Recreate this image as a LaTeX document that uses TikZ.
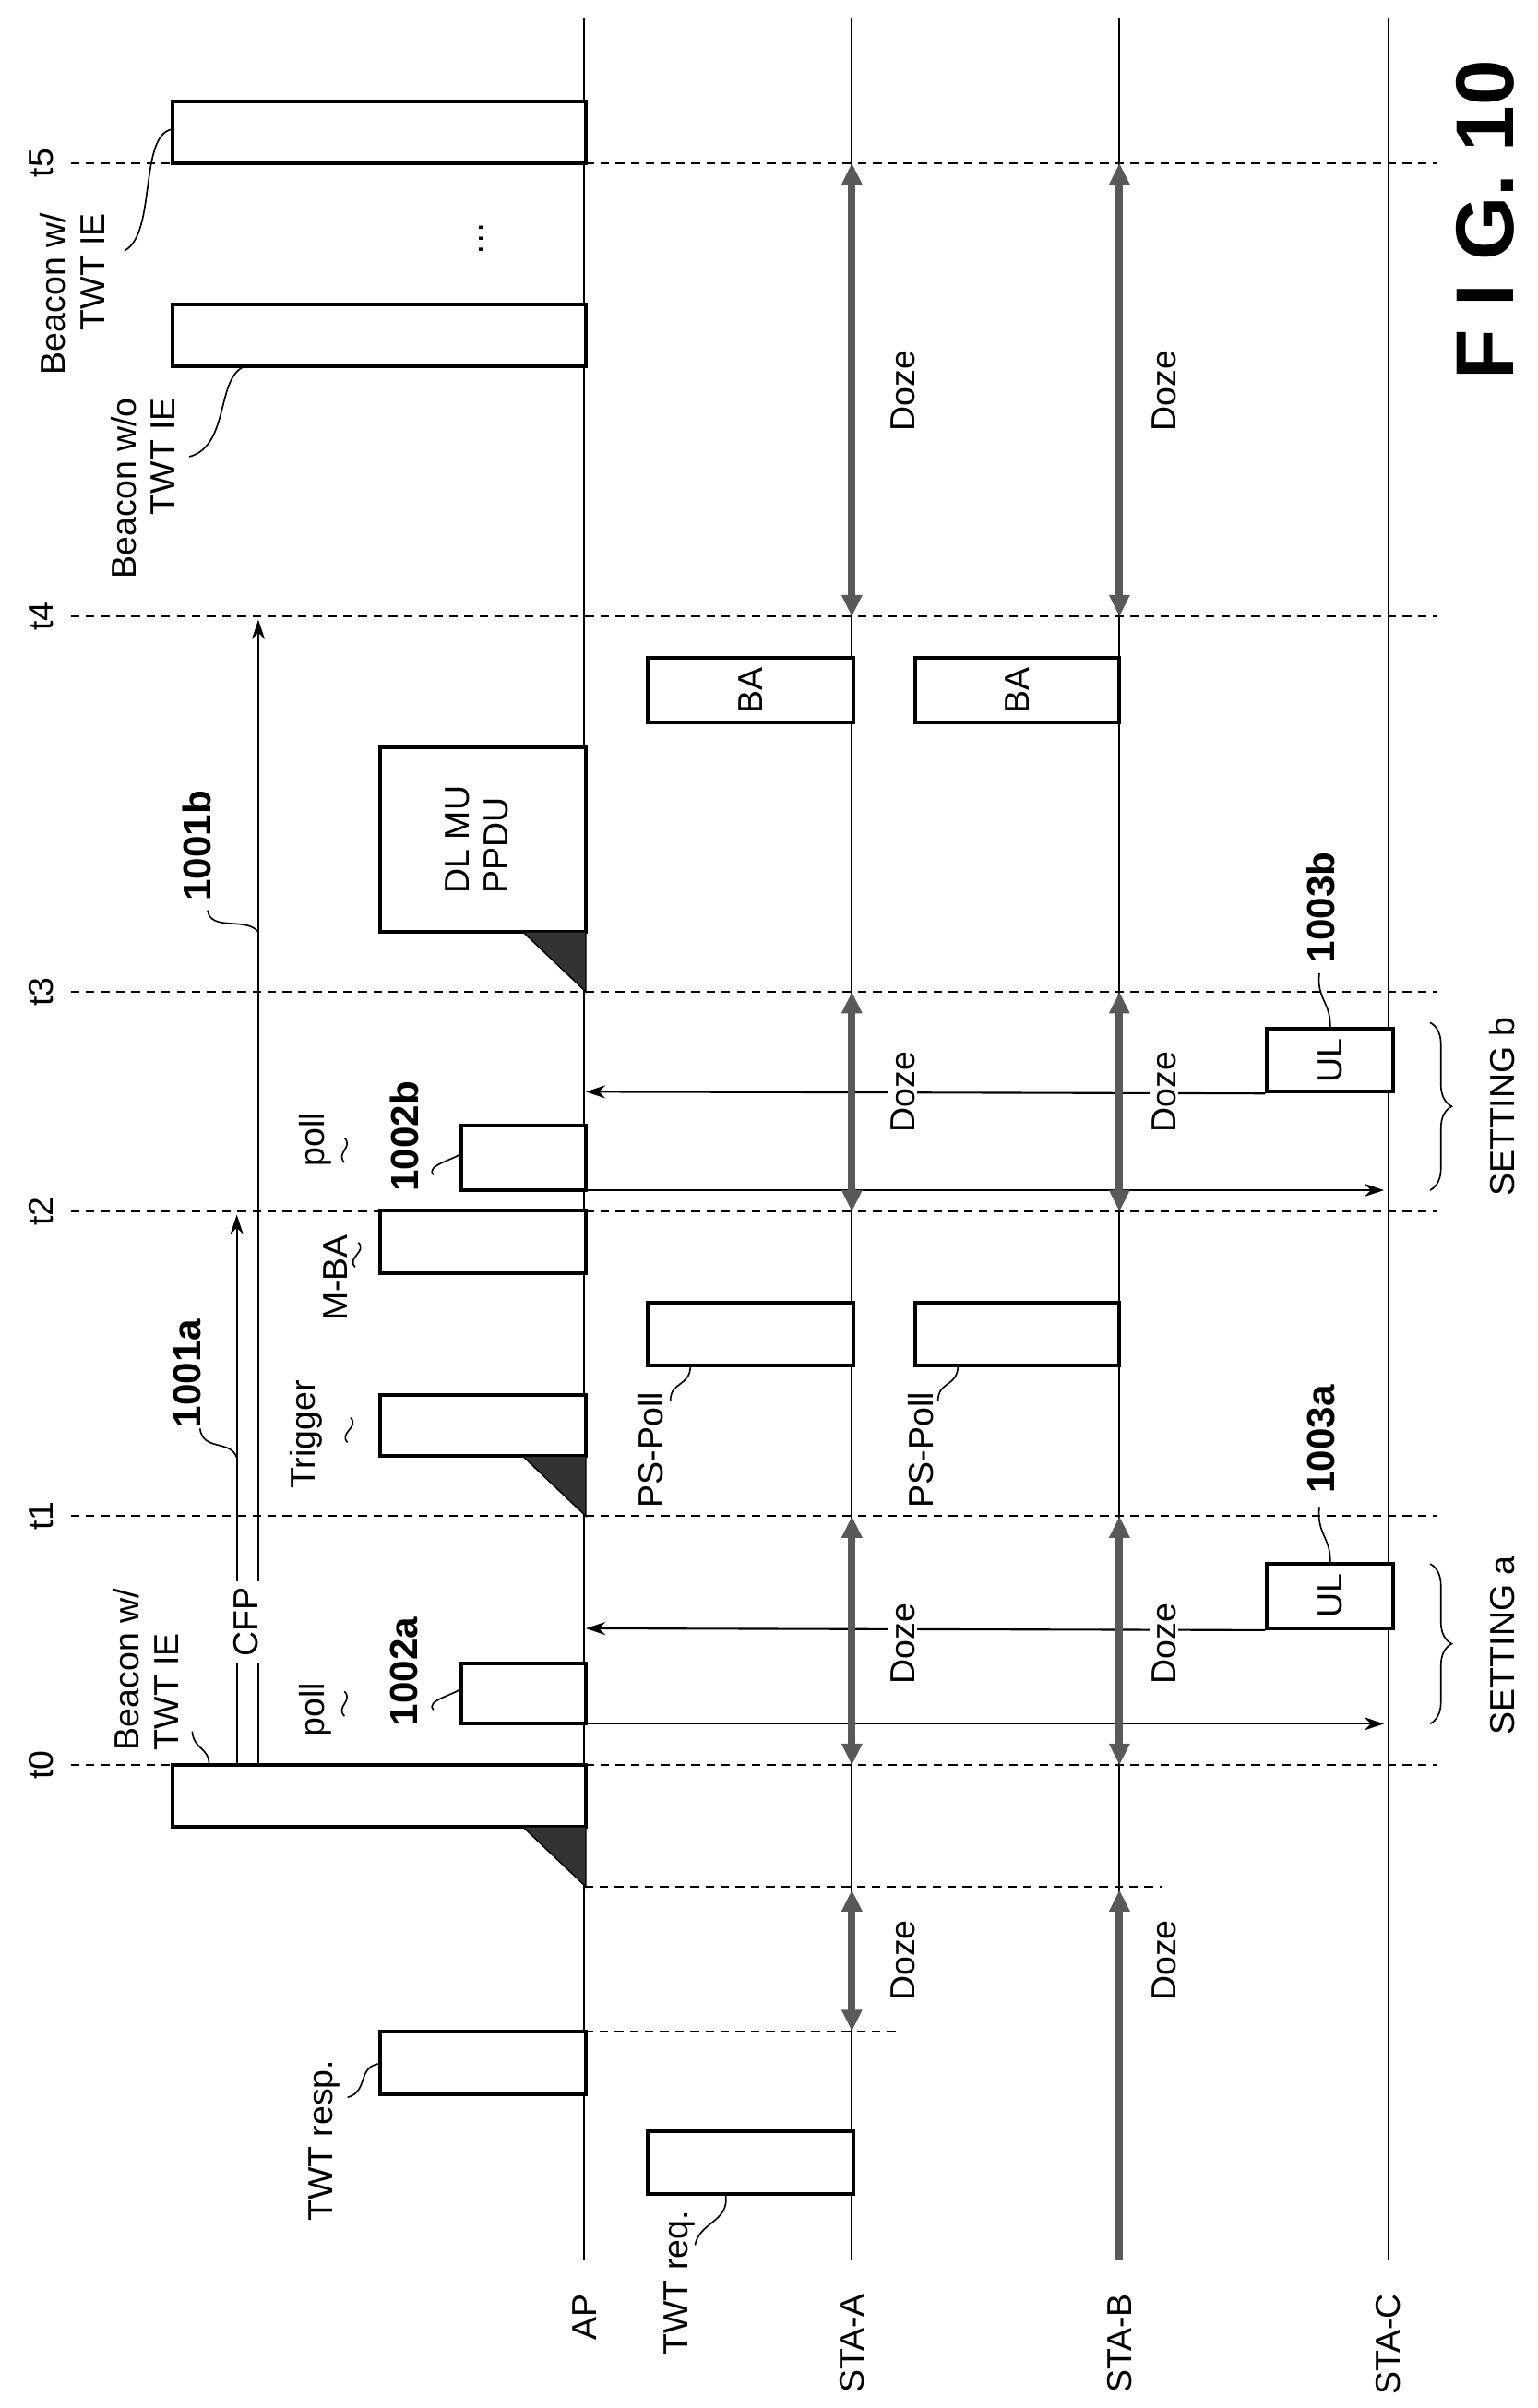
\documentclass[tikz,border=0pt]{standalone}
\usepackage{fontspec}
\setmainfont{Liberation Sans}
\usetikzlibrary{arrows.meta,fit,decorations.pathreplacing}

\begin{document}
\begin{tikzpicture}[x=0.025cm,y=-0.025cm,font=\fontsize{16}{18}\selectfont,
    lane/.style={line width=0.9pt},
    tline/.style={line width=0.9pt,dash pattern=on 4pt off 3pt},
    pkt/.style={draw,line width=1.6pt,fill=white,inner sep=0pt},
    wedge/.style={fill=black!80,draw=black,line width=0.6pt},
    doze/.style={line width=3.5pt,draw=black!65,{Triangle[length=10pt,width=9pt]}-{Triangle[length=10pt,width=9pt]}},
    msg/.style={line width=0.9pt,-{Stealth[length=9pt,width=6pt]}},
    lead/.style={line width=0.7pt},
    rot/.style={rotate=90,inner sep=1pt},
    num/.style={rot,font=\fontsize{18}{20}\selectfont\bfseries}]
  \useasboundingbox (0,0) rectangle (1000,1566);

  % lanes
  \foreach \n/\x in {ap/380,sta/554,stb/728,stc/903}{
    \coordinate (\n-top) at (\x,12);
    \coordinate (\n-bot) at (\x,1470);
  }
  \draw[lane] (ap-top) -- (ap-bot);
  \draw[lane] (sta-top) -- (sta-bot);
  \draw[lane] (stb-top) -- (stb-bot);
  \draw[lane] (stc-top) -- (stc-bot);
  \node[rot,anchor=east] (lap) at (380,1490) {AP};
  \node[rot,anchor=east] (lsta) at (554,1490) {STA-A};
  \node[rot,anchor=east] (lstb) at (728,1490) {STA-B};
  \node[rot,anchor=east] (lstc) at (903,1490) {STA-C};

  % time marks
  \foreach \t/\y in {0/1148,1/986,2/788,3/645,4/401,5/106}{
    \coordinate (t\t-l) at (46,\y);
    \coordinate (t\t-r) at (935,\y);
    \draw[tline] (t\t-l) -- (t\t-r);
    \node[rot] (lt\t) at (27,\y) {t\t};
  }
  \coordinate (d1-l) at (380,1227); \coordinate (d1-r) at (756,1227);
  \coordinate (d2-l) at (380,1321); \coordinate (d2-r) at (583,1321);
  \draw[tline] (d1-l) -- (d1-r);
  \draw[tline] (d2-l) -- (d2-r);

  % setup phase
  \node[pkt,fit={(421,1386) (555,1427)}] (twtreq) {};
  \node[rot,anchor=east] (ltwtreq) at (442,1436) {TWT req.};
  \draw[lead] (472,1428) .. controls (474,1445) and (455,1445) .. (452,1460);
  \node[pkt,fit={(247,1321) (381,1362)}] (twtresp) {};
  \node[rot,anchor=east] (ltwtresp) at (211,1338) {TWT resp.};
  \draw[lead] (247,1342) .. controls (232,1344) and (240,1360) .. (226,1364);
  \draw[doze] (554,1321) -- (554,1229);
  \node[rot] (dz0a) at (587,1275) {Doze};
  \draw[line width=3.5pt,draw=black!65,-{Triangle[length=10pt,width=9pt]}] (stb-bot) -- (728,1229);
  \node[rot] (dz0b) at (757,1275) {Doze};

  % beacon at t0 and CFP
  \node[pkt,fit={(112,1148) (381,1188)}] (bcn0) {};
  \draw[wedge] (340,1188) -- (381,1188) -- (381,1227) -- cycle;
  \node[rot,anchor=west,align=left] (lbcn0) at (95,1140) {Beacon w/\\TWT IE};
  \draw[lead] (136,1148) .. controls (136,1136) and (126,1138) .. (125,1126);
  \draw[msg] (154,1148) -- (154,790);
  \draw[msg] (168,1148) -- (168,403);
  \node[rot,fill=white,inner sep=3pt] (cfp) at (160,1055) {CFP};
  \node[num] (n1001a) at (122,893) {1001a};
  \draw[lead] (130,929) .. controls (132,944) and (150,936) .. (154,948);
  \node[num] (n1001b) at (128,550) {1001b};
  \draw[lead] (135,592) .. controls (137,606) and (160,596) .. (168,606);

  % setting a
  \node[pkt,fit={(300,1082) (381,1121)}] (polla) {};
  \node[rot] (lpolla) at (205,1112) {poll};
  \node[num] (n1002a) at (263,1087) {1002a};
  \draw[lead] (224,1116) .. controls (218,1110) and (230,1106) .. (224,1100);
  \draw[lead] (282,1112) .. controls (276,1106) and (296,1102) .. (300,1098);
  \node[pkt,fit={(824,1017) (906,1059)},label={[rot]center:UL}] (ula) {};
  \coordinate (pa-s) at (381,1121); \coordinate (pa-e) at (900,1121);
  \coordinate (ra-e) at (381,1059);
  \draw[msg] (pa-s) -- (pa-e);
  \draw[msg] (ula.south west) -- (ra-e);
  \draw[doze] (554,1148) -- (554,986);
  \draw[doze] (728,1148) -- (728,986);
  \node[rot,fill=white] (dz1a) at (587,1069) {Doze};
  \node[rot,fill=white] (dz1b) at (757,1069) {Doze};
  \node[num] (n1003a) at (859,936) {1003a};
  \draw[lead] (865,1017) .. controls (866,1000) and (856,998) .. (858,980);
  \draw[lead,decorate,decoration={brace,amplitude=10}] (930,1017) -- (930,1121);
  \node[rot] (lseta) at (977,1070) {SETTING a};

  % trigger, PS-Poll, M-BA
  \node[pkt,fit={(247,907) (381,947)}] (trig) {};
  \draw[wedge] (340,947) -- (381,947) -- (381,986) -- cycle;
  \node[rot] (ltrig) at (199,933) {Trigger};
  \draw[lead] (226,938) .. controls (220,932) and (234,928) .. (228,922);
  \node[pkt,fit={(421,847) (555,888)}] (psa) {};
  \node[pkt,fit={(595,847) (728,888)}] (psb) {};
  \node[rot] (lpsa) at (423,943) {PS-Poll};
  \node[rot] (lpsb) at (599,943) {PS-Poll};
  \draw[lead] (449,888) .. controls (449,902) and (436,898) .. (436,911);
  \draw[lead] (623,888) .. controls (623,902) and (610,898) .. (610,911);
  \node[pkt,fit={(247,787) (381,828)}] (mba) {};
  \node[rot] (lmba) at (218,831) {M-BA};
  \draw[lead] (231,824) .. controls (225,818) and (239,814) .. (233,808);

  % setting b
  \node[pkt,fit={(300,732) (381,774)}] (pollb) {};
  \node[rot] (lpollb) at (205,741) {poll};
  \node[num] (n1002b) at (263,739) {1002b};
  \draw[lead] (224,756) .. controls (218,750) and (230,746) .. (224,740);
  \draw[lead] (282,764) .. controls (276,758) and (296,754) .. (300,750);
  \node[pkt,fit={(824,669) (906,710)},label={[rot]center:UL}] (ulb) {};
  \coordinate (pb-s) at (381,774); \coordinate (pb-e) at (900,774);
  \coordinate (rb-e) at (381,710);
  \draw[msg] (pb-s) -- (pb-e);
  \draw[msg] (ulb.south west) -- (rb-e);
  \draw[doze] (554,788) -- (554,645);
  \draw[doze] (728,788) -- (728,645);
  \node[rot,fill=white] (dz2a) at (587,710) {Doze};
  \node[rot,fill=white] (dz2b) at (757,710) {Doze};
  \node[num] (n1003b) at (859,590) {1003b};
  \draw[lead] (865,669) .. controls (866,652) and (856,650) .. (858,633);
  \draw[lead,decorate,decoration={brace,amplitude=10}] (930,665) -- (930,774);
  \node[rot] (lsetb) at (977,720) {SETTING b};

  % DL MU PPDU and BA
  \node[pkt,fit={(247,486) (381,606)}] (ppdu) {};
  \draw[wedge] (340,606) -- (381,606) -- (381,645) -- cycle;
  \node[rot,align=left] (lppdu) at (310,546) {DL MU\\PPDU};
  \node[pkt,fit={(421,428) (555,470)},label={[rot]center:BA}] (baa) {};
  \node[pkt,fit={(595,428) (728,470)},label={[rot]center:BA}] (bab) {};
  \draw[doze] (554,401) -- (554,106);
  \draw[doze] (728,401) -- (728,106);
  \node[rot] (dz3a) at (587,254) {Doze};
  \node[rot] (dz3b) at (757,254) {Doze};

  % beacons after t4
  \node[pkt,fit={(112,198) (381,238)}] (bcnwo) {};
  \node[pkt,fit={(112,66) (381,106)}] (bcn5) {};
  \node[rot,anchor=east,align=right] (lbcnwo) at (93,257) {Beacon w/o\\TWT IE};
  \draw[lead] (160,238) .. controls (140,244) and (150,290) .. (123,297);
  \node[rot,anchor=east,align=right] (lbcn5) at (47,137) {Beacon w/\\TWT IE};
  \draw[lead] (112,84) .. controls (90,88) and (102,152) .. (81,163);
  \node[rot] (dots) at (313,155) {\dots};

  \node[rotate=90,font=\fontsize{38}{42}\selectfont\bfseries] (fig) at (966,143) {F I G. 10};
\end{tikzpicture}
\end{document}
